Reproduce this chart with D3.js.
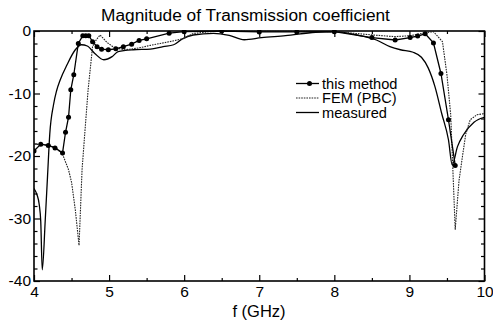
<!DOCTYPE html>
<html>
<head>
<meta charset="utf-8">
<script src="https://cdn.jsdelivr.net/npm/d3@7/dist/d3.min.js"></script>
<style>
  html, body { margin: 0; padding: 0; background: #fff; }
  svg { display: block; font-family: "Liberation Sans", Arial, sans-serif; }
</style>
</head>
<body>
<svg id="chart" width="493" height="324"></svg>
<script>
// Transmission magnitude (dB) versus frequency (GHz)
const thisMethod = [
  [4.0,-19.2],[4.09,-18.1],[4.19,-18.3],[4.28,-18.7],[4.38,-19.5],[4.42,-16.2],[4.46,-13.8],
  [4.49,-9.4],[4.53,-7.0],[4.59,-2.0],[4.65,-0.75],[4.69,-0.75],[4.73,-0.75],[4.78,-1.7],
  [4.84,-2.5],[4.9,-2.9],[4.99,-3.0],[5.09,-2.85],[5.19,-2.5],[5.3,-2.1],[5.4,-1.5],
  [5.5,-1.25],[5.8,-0.35],[6.0,-0.1],[6.5,0.0],[7.0,-0.15],[7.5,-0.15],[8.0,-0.1],
  [8.5,-1.05],[8.81,-1.44],[9.01,-1.05],[9.11,-0.8],[9.21,-0.45],[9.32,-1.9],[9.42,-6.8],
  [9.52,-14.2],[9.61,-21.5]
];
const femPBC = [
  [4.0,-18.1],[4.1,-18.2],[4.2,-18.3],[4.3,-18.8],[4.38,-19.7],[4.46,-22.2],[4.5,-24.2],
  [4.55,-28.6],[4.6,-34.3],[4.64,-22.2],[4.68,-15.8],[4.72,-9.5],[4.75,-6.0],[4.78,-2.5],
  [4.83,-1.4],[4.88,-0.64],[4.97,-1.8],[5.06,-2.6],[5.2,-3.0],[5.28,-2.9],[5.4,-2.7],
  [5.55,-2.3],[5.68,-2.0],[5.85,-1.6],[5.99,-1.2],[6.12,-0.4],[6.35,-0.1],[6.6,0.0],
  [7.0,-0.05],[7.5,-0.05],[8.0,-0.1],[8.52,-0.64],[8.8,-0.9],[9.02,-0.75],[9.2,-0.3],
  [9.32,-0.1],[9.44,-1.7],[9.5,-7.0],[9.55,-13.4],[9.61,-31.8],[9.66,-24.0],[9.7,-20.6],
  [9.75,-16.5],[9.81,-14.2],[9.9,-13.4],[10.0,-13.2]
];
const measured = [
  [4.0,-25.2],[4.04,-26.2],[4.07,-27.8],[4.09,-30.5],[4.11,-38.2],[4.15,-30.2],[4.18,-23.3],
  [4.21,-16.5],[4.26,-11.8],[4.3,-9.6],[4.35,-7.8],[4.44,-5.4],[4.55,-3.0],[4.63,-2.2],
  [4.71,-2.4],[4.81,-3.6],[4.93,-4.6],[5.04,-4.1],[5.12,-3.3],[5.32,-3.0],[5.55,-2.9],
  [5.72,-2.5],[5.86,-2.2],[5.97,-1.3],[6.12,-0.64],[6.39,-0.37],[6.6,-0.7],[6.8,-1.4],
  [7.03,-1.07],[7.35,-0.75],[7.75,-0.2],[8.0,-0.1],[8.3,-0.64],[8.56,-1.44],[8.74,-2.5],
  [8.88,-3.0],[9.05,-3.4],[9.16,-4.2],[9.25,-5.9],[9.34,-8.9],[9.43,-13.2],[9.52,-17.4],
  [9.57,-21.4],[9.64,-18.5],[9.72,-16.6],[9.86,-14.6],[10.0,-13.8]
];
const xMajorTicks = [4, 5, 6, 7, 8, 9, 10];
const yMajorTicks = [0, -10, -20, -30, -40];
const legendLabels = ["this method", "FEM (PBC)", "measured"];

(function draw() {
  const svg = d3.select("#chart");
  const L = 34, R = 484.5, T = 31, B = 281;
  const x = d3.scaleLinear().domain([4, 10]).range([L, R]);
  const y = d3.scaleLinear().domain([-40, 0]).range([B, T]);

  svg.append("defs").append("clipPath").attr("id", "plotClip")
    .append("rect").attr("x", L).attr("y", T - 1).attr("width", R - L).attr("height", B - T + 1);

  // Title
  svg.append("text").attr("x", 245.5).attr("y", 20.5).attr("text-anchor", "middle")
    .attr("font-size", 17.3).text("Magnitude of Transmission coefficient");

  // Axes: ticks point inward, on all four sides
  const xMinor = d3.range(4.5, 10, 1);
  const yMinor = d3.range(-38, 0, 2).filter(v => v % 10 !== 0);

  const axBottom = d3.axisBottom(x).tickValues(xMajorTicks).tickFormat(d3.format("d"))
    .tickSizeInner(-6).tickSizeOuter(0).tickPadding(5);
  const gB = svg.append("g").attr("transform", `translate(0,${B})`).call(axBottom);
  gB.selectAll("text").attr("font-size", 15.5).attr("fill", "#000");

  svg.append("g").attr("transform", `translate(0,${B})`)
    .call(d3.axisBottom(x).tickValues(xMinor).tickFormat("").tickSizeInner(-3).tickSizeOuter(0));
  svg.append("g").attr("transform", `translate(0,${T})`)
    .call(d3.axisTop(x).tickValues(xMajorTicks).tickFormat("").tickSizeInner(-6).tickSizeOuter(0));
  svg.append("g").attr("transform", `translate(0,${T})`)
    .call(d3.axisTop(x).tickValues(xMinor).tickFormat("").tickSizeInner(-3).tickSizeOuter(0));

  const axLeft = d3.axisLeft(y).tickValues(yMajorTicks)
    .tickFormat(d => d === 0 ? "0" : "-" + Math.abs(d))
    .tickSizeInner(-6).tickSizeOuter(0).tickPadding(3);
  const gL = svg.append("g").attr("transform", `translate(${L},0)`).call(axLeft);
  gL.selectAll("text").attr("font-size", 15.5).attr("fill", "#000");
  svg.append("g").attr("transform", `translate(${L},0)`)
    .call(d3.axisLeft(y).tickValues(yMinor).tickFormat("").tickSizeInner(-3.5).tickSizeOuter(0));

  svg.append("g").attr("transform", `translate(${R},0)`)
    .call(d3.axisRight(y).tickValues(yMajorTicks).tickFormat("").tickSizeInner(-6).tickSizeOuter(0));
  svg.append("g").attr("transform", `translate(${R},0)`)
    .call(d3.axisRight(y).tickValues(yMinor).tickFormat("").tickSizeInner(-3.5).tickSizeOuter(0));

  svg.selectAll(".domain").remove();
  svg.selectAll(".tick line").attr("stroke", "#000").attr("stroke-width", 1.2);

  // Frame
  svg.append("rect").attr("x", L).attr("y", T).attr("width", R - L).attr("height", B - T)
    .attr("fill", "none").attr("stroke", "#000").attr("stroke-width", 1.6);

  // Axis title
  svg.append("text").attr("x", 259).attr("y", 317).attr("text-anchor", "middle")
    .attr("font-size", 16.5).text("f (GHz)");

  // Curves
  const plot = svg.append("g").attr("clip-path", "url(#plotClip)");
  const lineLin = d3.line().x(d => x(d[0])).y(d => y(d[1]));
  const lineSmooth = d3.line().x(d => x(d[0])).y(d => y(d[1])).curve(d3.curveMonotoneX);

  plot.append("path").datum(measured).attr("d", lineSmooth)
    .attr("fill", "none").attr("stroke", "#000").attr("stroke-width", 1.3);

  plot.append("path").datum(femPBC).attr("d", lineLin)
    .attr("fill", "none").attr("stroke", "#222").attr("stroke-width", 1.1)
    .attr("stroke-dasharray", "1.6,1");

  plot.append("path").datum(thisMethod).attr("d", lineLin)
    .attr("fill", "none").attr("stroke", "#000").attr("stroke-width", 1.3);

  plot.selectAll("circle.m").data(thisMethod).enter().append("circle")
    .attr("class", "m").attr("cx", d => x(d[0])).attr("cy", d => y(d[1])).attr("r", 2.5)
    .attr("fill", "#000");

  // Legend
  const lg = svg.append("g");
  const lx0 = 296, lx1 = 319, ly = [83.5, 98, 112.5];
  lg.append("line").attr("x1", lx0).attr("x2", lx1).attr("y1", ly[0]).attr("y2", ly[0])
    .attr("stroke", "#000").attr("stroke-width", 1.3);
  lg.append("circle").attr("cx", 309.5).attr("cy", ly[0]).attr("r", 2.5).attr("fill", "#000");
  lg.append("line").attr("x1", lx0).attr("x2", lx1).attr("y1", ly[1]).attr("y2", ly[1])
    .attr("stroke", "#222").attr("stroke-width", 1.1).attr("stroke-dasharray", "1.6,1");
  lg.append("line").attr("x1", lx0).attr("x2", lx1).attr("y1", ly[2]).attr("y2", ly[2])
    .attr("stroke", "#000").attr("stroke-width", 1.3);
  lg.selectAll("text.lab").data(legendLabels).enter().append("text")
    .attr("class", "lab")
    .attr("x", 322).attr("y", (d, i) => ly[i]).attr("dy", "0.36em")
    .attr("font-size", 14.6).text(d => d);
})();
</script>
</body>
</html>
